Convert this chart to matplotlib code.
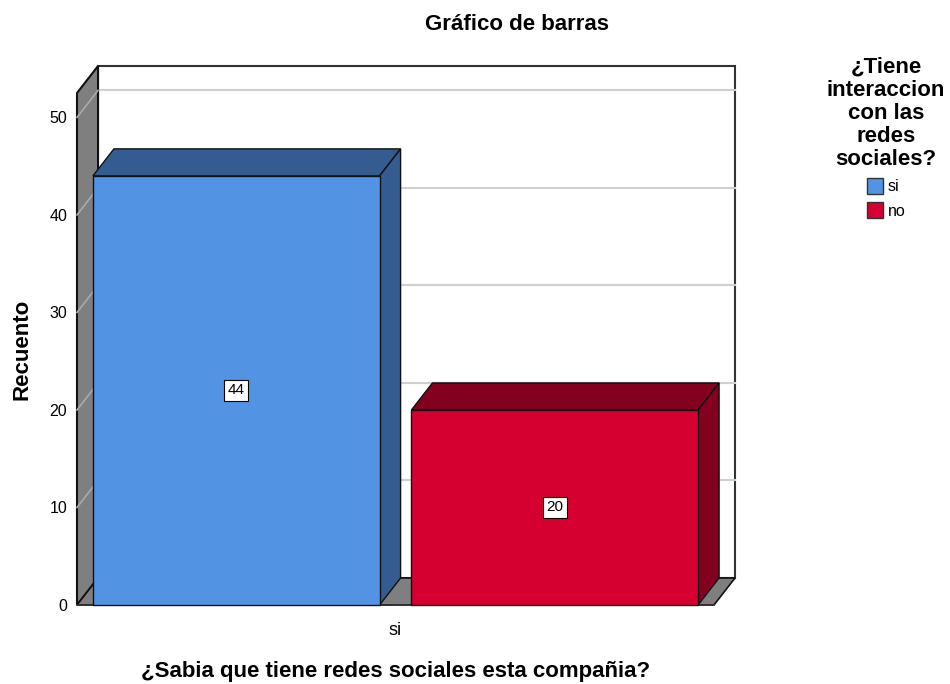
import matplotlib.pyplot as plt
from matplotlib.patches import Polygon, Rectangle, Patch

# datos del grafico
categorias = ["si"]
series = ["si", "no"]
recuento = [44, 20]
yticks = [0, 10, 20, 30, 40, 50]

color_frente = ["#5393E3", "#D60030"]
color_lado = ["#345C91", "#83001F"]
gris = "#7F7F7F"

plt.rcParams["font.family"] = ["Liberation Sans", "DejaVu Sans"]

fig = plt.figure(figsize=(9.5, 6.84), dpi=100)
ax = fig.add_axes([77 / 950, 79 / 684, 637 / 950, 512 / 684])
ymax = 52.5
ax.set_xlim(-1, 1)
ax.set_ylim(0, ymax)
dx, dy = 0.066, 2.77  # profundidad del efecto 3D
ancho = 0.9

for s in ax.spines.values():
    s.set_visible(False)

# pared del fondo
ax.add_patch(Rectangle((-1 + dx, dy), 2, ymax, facecolor="white", edgecolor="#333333",
                       lw=1.5, zorder=1, clip_on=False))
for v in yticks[1:]:
    ax.plot([-1 + dx, 1 + dx], [v + dy, v + dy], color="#CFCFCF", lw=1.5, zorder=2, clip_on=False)
    ax.plot([-1, -1 + dx], [v, v + dy], color="#AAAAAA", lw=1.2, zorder=4, clip_on=False)

# pared izquierda
ax.add_patch(Polygon([(-1, 0), (-1 + dx, dy), (-1 + dx, ymax + dy), (-1, ymax)],
                     facecolor=gris, edgecolor="#111111", lw=1.5, zorder=3, clip_on=False))
# piso
ax.add_patch(Polygon([(-1, 0), (1, 0), (1 + dx, dy), (-1 + dx, dy)],
                     facecolor=gris, edgecolor="#111111", lw=1.2, zorder=3, clip_on=False))
ax.plot([-1, 1], [0, 0], color="#333333", lw=1.2, zorder=3, clip_on=False)

n = len(series)
for i, (nombre, h) in enumerate(zip(series, recuento)):
    c = (i - (n - 1) / 2) * 1.0
    x0, x1 = c - ancho / 2, c + ancho / 2
    ax.add_patch(Polygon([(x0, h), (x1, h), (x1 + dx, h + dy), (x0 + dx, h + dy)],
                         facecolor=color_lado[i], edgecolor="#111111", lw=1, zorder=5, clip_on=False))
    ax.add_patch(Polygon([(x1, 0), (x1, h), (x1 + dx, h + dy), (x1 + dx, dy)],
                         facecolor=color_lado[i], edgecolor="#111111", lw=1, zorder=5, clip_on=False))
    ax.add_patch(Rectangle((x0, 0), ancho, h, facecolor=color_frente[i], edgecolor="#111111",
                           lw=1, zorder=6, clip_on=False))
    ax.text(c, h / 2, str(h), ha="center", va="center", fontsize=11, zorder=10,
            bbox=dict(boxstyle="square,pad=0.22", fc="white", ec="black", lw=0.8))

ax.set_yticks(yticks)
ax.set_xticks([0], categorias)
ax.tick_params(axis="y", length=0, pad=7, labelsize=11.5)
ax.tick_params(axis="x", length=0, pad=12, labelsize=13)
ax.set_ylabel("Recuento", fontsize=16, fontweight="bold", labelpad=12)
ax.set_xlabel("¿Sabia que tiene redes sociales esta compañia?", fontsize=16,
              fontweight="bold", labelpad=16)

fig.text(517 / 950, 1 - 25 / 684, "Gráfico de barras", ha="center", va="center",
         fontsize=16, fontweight="bold")

handles = [Patch(facecolor=color_frente[i], edgecolor="#333333", label=series[i]) for i in range(n)]
leg = fig.legend(handles=handles, loc="upper center", bbox_to_anchor=(886 / 950, 1 - 42 / 684),
                 frameon=False, fontsize=11.5, handlelength=1.0, handleheight=1.1,
                 handletextpad=0.3, labelspacing=0.5,
                 title="¿Tiene\ninteraccion\ncon las\nredes\nsociales?",
                 title_fontproperties={"weight": "bold", "size": 16})
leg.get_title().set_multialignment("center")
leg.get_title().set_linespacing(1.14)

fig.savefig("out.png", dpi=100)
